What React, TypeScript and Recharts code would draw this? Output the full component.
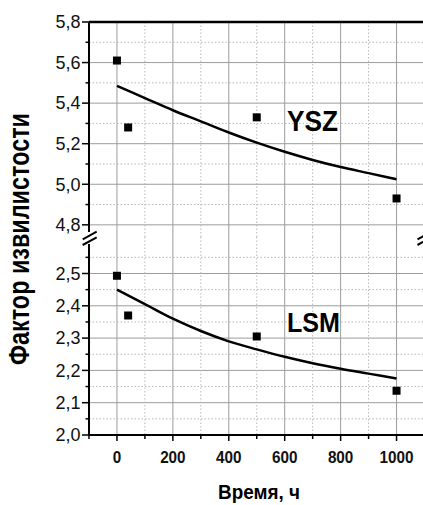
import React from "react";
import { ComposedChart, Line, Scatter, XAxis, YAxis, CartesianGrid, ReferenceLine } from "recharts";

// Time axis, hours
const timeMajor = [0, 200, 400, 600, 800, 1000];
const timeMinor = [-100, 100, 300, 500, 700, 900];
const timeTicks = [-100, 0, 100, 200, 300, 400, 500, 600, 700, 800, 900, 1000];

// Upper panel (YSZ)
const yszMajor = [4.8, 5.0, 5.2, 5.4, 5.6, 5.8];
const yszMinor = [4.9, 5.1, 5.3, 5.5, 5.7];

// Lower panel (LSM)
const lsmMajor = [2.0, 2.1, 2.2, 2.3, 2.4, 2.5];
const lsmMinor = [2.05, 2.15, 2.25, 2.35, 2.45, 2.55];

// measured points
const pointTime = [0, 40, 500, 1000];
const yszPoints = [5.61, 5.28, 5.33, 4.93];
const lsmPoints = [2.493, 2.37, 2.305, 2.137];

// fitted curves
const fitTime = [0, 100, 200, 300, 400, 500, 600, 700, 800, 900, 1000];
const yszFit = [5.485, 5.425, 5.365, 5.31, 5.255, 5.205, 5.16, 5.12, 5.085, 5.055, 5.025];
const lsmFit = [2.45, 2.405, 2.36, 2.322, 2.29, 2.265, 2.242, 2.222, 2.205, 2.19, 2.175];

const yszPointData = pointTime.map((t, i) => ({ t, v: yszPoints[i] }));
const lsmPointData = pointTime.map((t, i) => ({ t, v: lsmPoints[i] }));
const yszFitData = fitTime.map((t, i) => ({ t, v: yszFit[i] }));
const lsmFitData = fitTime.map((t, i) => ({ t, v: lsmFit[i] }));

const FONT = "'Liberation Sans', Arial, sans-serif";

const fmt = (v: number) => v.toFixed(1).replace(".", ",");

const YTick = (props: any) => {
    const { x, y, payload, majors } = props;
    const major = majors.includes(payload.value);
    return (
        <g>
            <line x1={x - (major ? 7 : 3.5)} x2={x} y1={y} y2={y} stroke="#000" strokeWidth={1.5} />
            {major && (
                <text x={x - 8.5} y={y} dy="0.35em" textAnchor="end" fontSize={18} fontFamily={FONT} fill="#111">
                    {fmt(payload.value)}
                </text>
            )}
        </g>
    );
};

const XTick = (props: any) => {
    const { x, y, payload } = props;
    const major = timeMajor.includes(payload.value);
    const label = String(payload.value);
    return (
        <g>
            <line x1={x} x2={x} y1={y} y2={y + (major ? 6 : 4)} stroke="#000" strokeWidth={1.5} />
            {major && (
                <text
                    x={x}
                    y={y + 28}
                    textAnchor="middle"
                    fontSize={17}
                    fontWeight="bold"
                    fontFamily={FONT}
                    fill="#111"
                    textLength={label.length * 8.5}
                    lengthAdjust="spacingAndGlyphs"
                >
                    {label}
                </text>
            )}
        </g>
    );
};

const Square = (props: any) => <rect x={props.cx - 4} y={props.cy - 4} width={8} height={8} fill="#000" />;

function Panel({ top, height, domain, majors, minors, fitData, pointData, showX }: any) {
    return (
        <div style={{ position: "absolute", left: 0, top }}>
            <ComposedChart width={440} height={height} margin={{ top: showX ? 0 : 22, right: 15.5, bottom: 0, left: 0 }}>
                <CartesianGrid horizontalValues={majors} verticalValues={timeMajor} stroke="#9c9c9c" strokeWidth={1} />
                <CartesianGrid horizontalValues={minors} verticalValues={timeMinor} stroke="#b8b8b8" strokeWidth={1} strokeDasharray="1.5 2" />
                <XAxis
                    dataKey="t"
                    type="number"
                    domain={[-100, 1100]}
                    allowDataOverflow
                    ticks={timeTicks}
                    interval={0}
                    hide={!showX}
                    height={70}
                    tickSize={0}
                    tickMargin={0}
                    tickLine={false}
                    axisLine={{ stroke: "#000", strokeWidth: 2 }}
                    tick={<XTick />}
                />
                <YAxis
                    dataKey="v"
                    type="number"
                    domain={domain}
                    allowDataOverflow
                    ticks={[...majors, ...minors].sort((a, b) => a - b)}
                    interval={0}
                    width={89}
                    tickSize={0}
                    tickMargin={0}
                    tickLine={false}
                    axisLine={{ stroke: "#000", strokeWidth: 2 }}
                    tick={(p: any) => <YTick {...p} majors={majors} />}
                />
                {!showX && <ReferenceLine y={domain[1]} stroke="#000" strokeWidth={2.5} />}
                <Line data={fitData} dataKey="v" type="monotone" stroke="#000" strokeWidth={2.5} dot={false} isAnimationActive={false} />
                <Scatter data={pointData} fill="#000" shape={<Square />} isAnimationActive={false} />
            </ComposedChart>
        </div>
    );
}

export default function App() {
    return (
        <div style={{ position: "absolute", left: 0, top: 0, width: 423, height: 505, overflow: "hidden", background: "#fff" }}>
            <Panel top={0} height={237} domain={[4.74, 5.8]} majors={yszMajor} minors={yszMinor} fitData={yszFitData} pointData={yszPointData} showX={false} />
            <Panel top={237} height={268} domain={[2.0, 2.613]} majors={lsmMajor} minors={lsmMinor} fitData={lsmFitData} pointData={lsmPointData} showX />
            <svg width={423} height={505} style={{ position: "absolute", left: 0, top: 0, pointerEvents: "none" }}>
                {/* axis break */}
                <rect x={85} y={232} width={8} height={12} fill="#fff" />
                <line x1={82.7} y1={239.3} x2={96.7} y2={231.7} stroke="#000" strokeWidth={2} />
                <line x1={82.7} y1={245} x2={96.7} y2={237.3} stroke="#000" strokeWidth={2} />
                <line x1={417.5} y1={239.3} x2={431.5} y2={231.7} stroke="#000" strokeWidth={2} />
                <line x1={417.5} y1={245} x2={431.5} y2={237.3} stroke="#000" strokeWidth={2} />
                {/* labels */}
                <text x={287} y={131} fontSize={29} fontWeight="bold" fontFamily={FONT} textLength={51} lengthAdjust="spacingAndGlyphs">YSZ</text>
                <text x={287} y={332} fontSize={28} fontWeight="bold" fontFamily={FONT} textLength={53} lengthAdjust="spacingAndGlyphs">LSM</text>
                <text x={259} y={499} textAnchor="middle" fontSize={20} fontWeight="bold" fontFamily={FONT} textLength={82} lengthAdjust="spacingAndGlyphs">Время, ч</text>
                <text
                    x={28.5}
                    y={239}
                    transform="rotate(-90 28.5 239)"
                    textAnchor="middle"
                    fontSize={29}
                    fontWeight="bold"
                    fontFamily={FONT}
                    textLength={252}
                    lengthAdjust="spacingAndGlyphs"
                >
                    Фактор извилистости
                </text>
            </svg>
        </div>
    );
}
